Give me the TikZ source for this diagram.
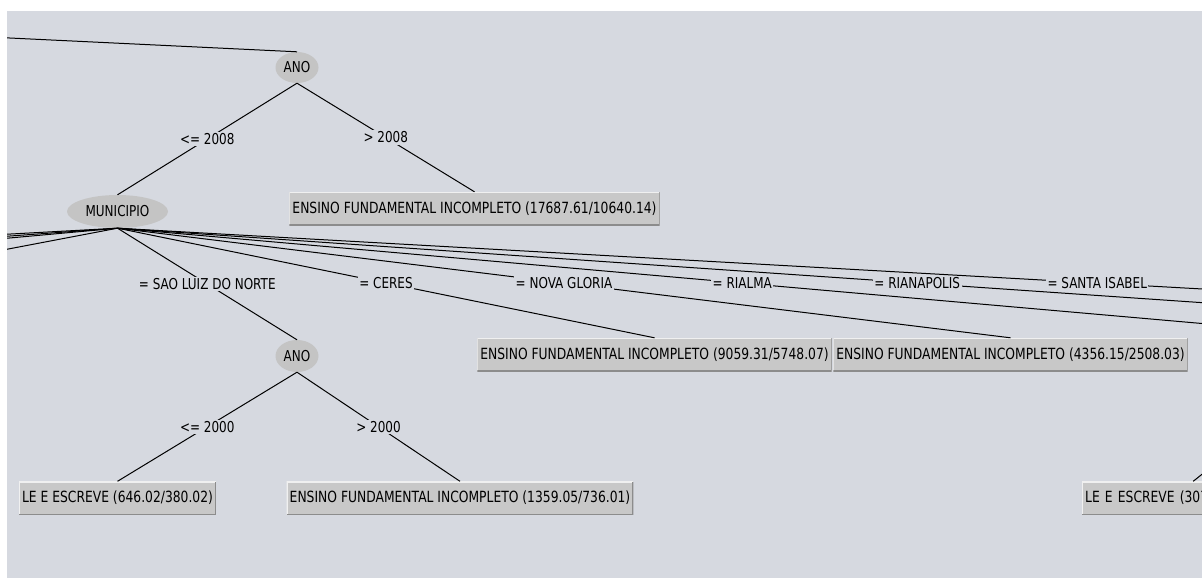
\documentclass[tikz,border=0pt]{standalone}
\usepackage{fontspec}
\setmainfont{DejaVu Sans}[FakeStretch=0.8]
\usetikzlibrary{shapes.geometric}
\definecolor{panel}{RGB}{214,217,224}
\definecolor{splitfill}{RGB}{196,196,196}
\definecolor{leaffill}{RGB}{200,200,200}
\definecolor{leafdark}{RGB}{140,140,140}
\definecolor{leaflight}{RGB}{240,240,240}
\begin{document}
\begin{tikzpicture}[x=1pt, y=-1pt, font=\fontsize{15}{18}\selectfont,
  split/.style={ellipse, fill=splitfill, inner sep=0pt},
  leaf/.style={rectangle, fill=leaffill, font=\fontsize{15.4}{18}\selectfont,
    inner xsep=3pt, inner ysep=0pt, minimum height=33pt,
    path picture={
      \draw[leaflight, line width=2pt] (path picture bounding box.south west) |- (path picture bounding box.north east);
      \draw[leafdark, line width=2pt] (path picture bounding box.south west) -| (path picture bounding box.north east);}},
  branch/.style={line width=1pt},
  cond/.style={fill=panel, inner sep=1.5pt}]
\useasboundingbox (0,0) rectangle (1202,578);
\fill[panel] (7,11) rectangle (1202,578);
\begin{scope}
\clip (7,11) rectangle (1202,578);
\node[split, minimum width=43pt, minimum height=31pt] (ano) at (297,67.5) {ANO};
\node[split, minimum width=101pt, minimum height=33pt] (mun) at (117.5,211.5) {MUNICIPIO};
\node[leaf] (l1) at (474.5,208.5) {ENSINO FUNDAMENTAL INCOMPLETO (17687.61/10640.14)};
\node[split, minimum width=43pt, minimum height=32pt] (ano2) at (297,356) {ANO};
\node[leaf] (l2) at (654.5,354.5) {ENSINO FUNDAMENTAL INCOMPLETO (9059.31/5748.07)};
\node[leaf] (l3) at (1010.5,354.5) {ENSINO FUNDAMENTAL INCOMPLETO (4356.15/2508.03)};
\node[leaf] (l4) at (117.5,498) {LE E ESCREVE (646.02/380.02)};
\node[leaf] (l5) at (460,498) {ENSINO FUNDAMENTAL INCOMPLETO (1359.05/736.01)};
\node[leaf, anchor=west, text width=216pt, align=left] (l6) at (1082,498) {LE E ESCREVE (307};

\coordinate (up) at (-1990,-58);
\coordinate (up6) at (1330,372);
\coordinate (m1) at (-1900,338);
\coordinate (m2) at (-1395,338);
\coordinate (m3) at (-1093,338);
\coordinate (m4) at (-459,338);
\coordinate (rialma) at (1367,338);
\coordinate (rianap) at (1717,338);
\coordinate (santa) at (2077,338);

\draw[branch] (up) -- (ano.north);
\draw[branch] (ano.south) -- node[cond] {<= 2008} (mun.north);
\draw[branch] (ano.south) -- node[cond] {> 2008} (l1.north);
\foreach \c in {m1,m2,m3,m4}
  \draw[branch] (mun.south) -- (\c);
\draw[branch] (mun.south) -- node[cond] {= SANTA ISABEL} (santa);
\draw[branch] (mun.south) -- node[cond] {= RIANAPOLIS} (rianap);
\draw[branch] (mun.south) -- node[cond] {= RIALMA} (rialma);
\draw[branch] (mun.south) -- node[cond] {= NOVA GLORIA} (l3.north);
\draw[branch] (mun.south) -- node[cond] {= CERES} (l2.north);
\draw[branch] (mun.south) -- node[cond] {= SAO LUIZ DO NORTE} (ano2.north);
\draw[branch] (ano2.south) -- node[cond] {<= 2000} (l4.north);
\draw[branch] (ano2.south) -- node[cond] {> 2000} (l5.north);
\draw[branch] (up6) -- (l6.north);
\end{scope}
\end{tikzpicture}
\end{document}
